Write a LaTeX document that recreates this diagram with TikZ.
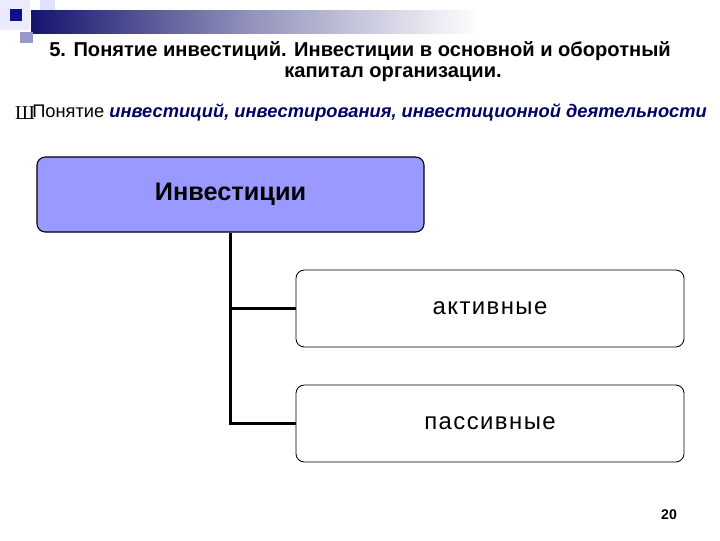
\documentclass[tikz,border=0pt]{standalone}
\usepackage{fontspec}
\setmainfont{Liberation Sans}
\newfontfamily\bulletfont{Liberation Serif}
\definecolor{boxblue}{HTML}{9999FF}
\definecolor{deepnavy}{HTML}{14146E}
\definecolor{textnavy}{HTML}{000066}

\begin{document}
\begin{tikzpicture}[x=0.025cm,y=-0.025cm,
		mainbox/.style={draw=black, fill=boxblue, rounded corners=6pt, line width=0.8pt,
			minimum width=9.675cm, minimum height=1.875cm, font=\fontsize{18}{21}\selectfont\bfseries},
		subbox/.style={draw=black, fill=white, rounded corners=6pt, line width=0.6pt,
			minimum width=9.7cm, minimum height=1.925cm, font=\fontsize{17}{20}\selectfont\addfontfeature{LetterSpace=6}},
		link/.style={line width=2pt}]
			\useasboundingbox (0,0) rectangle (720,540);
			% top decoration
			\fill[blue!8] (0,0) rectangle (30,30);
			\fill[blue!12] (40,0) rectangle (55,30);
			\shade[left color=deepnavy, right color=white, middle color=deepnavy!45] (31,10) rectangle (480,33);
			\fill[blue!35!gray!60] (20,32) rectangle (33,43);
			\fill[deepnavy!80!blue] (10,9) rectangle (22,21);
			% title
			\node[font=\fontsize{14.3}{17}\selectfont\bfseries] (title1) at (360,51) {5. Понятие инвестиций. Инвестиции в основной и оборотный};
			\node[font=\fontsize{14.3}{17}\selectfont\bfseries] (title2) at (393,74) {капитал организации.};
			\node[font=\fontsize{14}{16}\selectfont\bulletfont, inner sep=0pt] (bullet) at (25,113) {Ш};
			\node[font=\fontsize{13}{15}\selectfont, anchor=west, inner sep=0pt] (intro) at (32,113) {Понятие \textcolor{textnavy}{\bfseries\itshape инвестиций, инвестирования, инвестиционной деятельности}};
			% boxes
			\node[mainbox] (inv) at (230.5,194.5) {Инвестиции};
			\node[subbox] (act) at (490,308.5) {активные};
			\node[subbox] (pas) at (490,423.5) {пассивные};
			\draw[link] (inv.south) |- (act.west);
			\draw[link] (inv.south) |- (pas.west);
			% page number
			\node[font=\fontsize{10}{12}\selectfont\bfseries] (page) at (669,515) {20};
		\end{tikzpicture}
\end{document}
